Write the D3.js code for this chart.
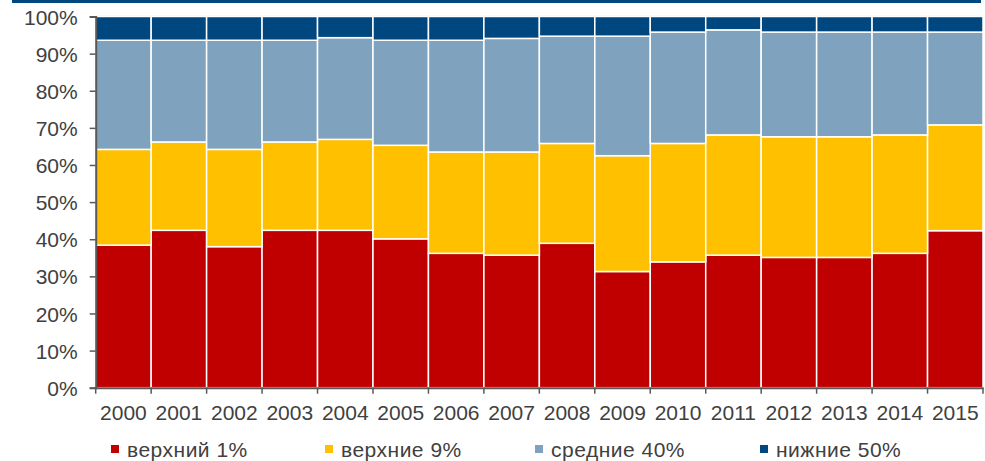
<!DOCTYPE html>
<html>
<head>
<meta charset="utf-8">
<script src="https://cdn.jsdelivr.net/npm/d3@7"></script>
<style>
  body { margin: 0; background: #fff; }
  text { font-family: "Liberation Sans", Arial, sans-serif; fill: #404040; }
</style>
</head>
<body>
<script>
// shares of income by group, %
var years = ["2000","2001","2002","2003","2004","2005","2006","2007",
             "2008","2009","2010","2011","2012","2013","2014","2015"];
var top1   = [38.4, 42.4, 38.0, 42.4, 42.4, 40.1, 36.2, 35.7, 38.9, 31.3, 33.9, 35.7, 35.1, 35.1, 36.2, 42.3];
var next9  = [25.8, 23.8, 26.2, 23.8, 24.5, 25.2, 27.3, 27.8, 26.9, 31.2, 31.9, 32.4, 32.5, 32.5, 31.9, 28.5];
var mid40  = [29.4, 27.4, 29.4, 27.4, 27.4, 28.3, 30.1, 30.6, 28.9, 32.2, 30.0, 28.3, 28.2, 28.2, 27.7, 25.0];
var low50  = [6.4, 6.4, 6.4, 6.4, 5.7, 6.4, 6.4, 5.9, 5.3, 5.3, 4.2, 3.6, 4.2, 4.2, 4.2, 4.2];
var seriesNames = ["верхний 1%", "верхние 9%", "средние 40%", "нижние 50%"];
var seriesColors = ["#C00000", "#FFC000", "#7FA3BE", "#00467F"];
var yTicks = [0, 0.1, 0.2, 0.3, 0.4, 0.5, 0.6, 0.7, 0.8, 0.9, 1];

var W = 985, H = 461;
var pLeft = 95.7, pRight = 983, pTop = 16.5, pBottom = 387.7;

var rows = years.map(function(y, i) {
  return {year: y, s0: top1[i], s1: next9[i], s2: mid40[i], s3: low50[i]};
});
var stack = d3.stack().keys(["s0","s1","s2","s3"]).offset(d3.stackOffsetExpand);
var layers = stack(rows);

var svg = d3.select("body").append("svg")
  .attr("width", W).attr("height", H);

// thin header band
svg.append("rect").attr("x", 12).attr("y", 0).attr("width", 969).attr("height", 3)
  .attr("fill", "#00467F");

var x = d3.scaleBand().domain(years).range([pLeft, pRight]).padding(0);
var y = d3.scaleLinear().domain([0, 1]).range([pBottom, pTop]);

// top border of plot area
svg.append("line").attr("x1", pLeft).attr("x2", pRight).attr("y1", pTop).attr("y2", pTop)
  .attr("stroke", "#D9D9D9").attr("stroke-width", 1.5);

svg.selectAll(".layer")
  .data(layers)
  .enter().append("g")
  .attr("class", "layer")
  .attr("fill", function(d, i) { return seriesColors[i]; })
  .selectAll("rect")
  .data(function(d) { return d; })
  .enter().append("rect")
  .attr("x", function(d) { return x(d.data.year); })
  .attr("width", x.bandwidth())
  .attr("y", function(d) { return y(d[1]); })
  .attr("height", function(d) { return y(d[0]) - y(d[1]); })
  .attr("stroke", "#fff")
  .attr("stroke-width", 1.5);

// y axis
var yAxis = svg.append("g")
  .attr("transform", "translate(" + pLeft + ",0)")
  .call(d3.axisLeft(y).tickValues(yTicks).tickFormat(d3.format(".0%")).tickSize(6).tickPadding(12));
yAxis.selectAll("text").style("font-size", "21px").attr("dy", "0.36em");
yAxis.selectAll("line").attr("stroke", "#595959").attr("stroke-width", 1.5);
yAxis.select(".domain").attr("stroke", "#595959").attr("stroke-width", 2);

// x axis: labels centred in bands, ticks on band boundaries
var xAxis = svg.append("g")
  .attr("transform", "translate(0," + pBottom + ")")
  .call(d3.axisBottom(x).tickSize(0).tickPadding(22));
xAxis.selectAll("text").style("font-size", "21px").attr("dy", "0.5em");
xAxis.select(".domain").attr("stroke", "#595959").attr("stroke-width", 2);
var bounds = years.map(function(d) { return x(d); }).concat([pRight]);
xAxis.selectAll(".bound")
  .data(bounds)
  .enter().append("line")
  .attr("class", "bound")
  .attr("x1", function(d) { return d; }).attr("x2", function(d) { return d; })
  .attr("y1", 0).attr("y2", 6)
  .attr("stroke", "#595959").attr("stroke-width", 1.5);

// legend
var legendX = [111, 325, 535, 760];
var legend = svg.selectAll(".legend")
  .data(seriesNames)
  .enter().append("g")
  .attr("class", "legend")
  .attr("transform", function(d, i) { return "translate(" + legendX[i] + ",445)"; });
legend.append("rect").attr("width", 8).attr("height", 8)
  .attr("fill", function(d, i) { return seriesColors[i]; });
legend.append("text").attr("x", 16).attr("y", 12)
  .style("font-size", "21px")
  .style("letter-spacing", "0.5px")
  .text(function(d) { return d; });
</script>
</body>
</html>
